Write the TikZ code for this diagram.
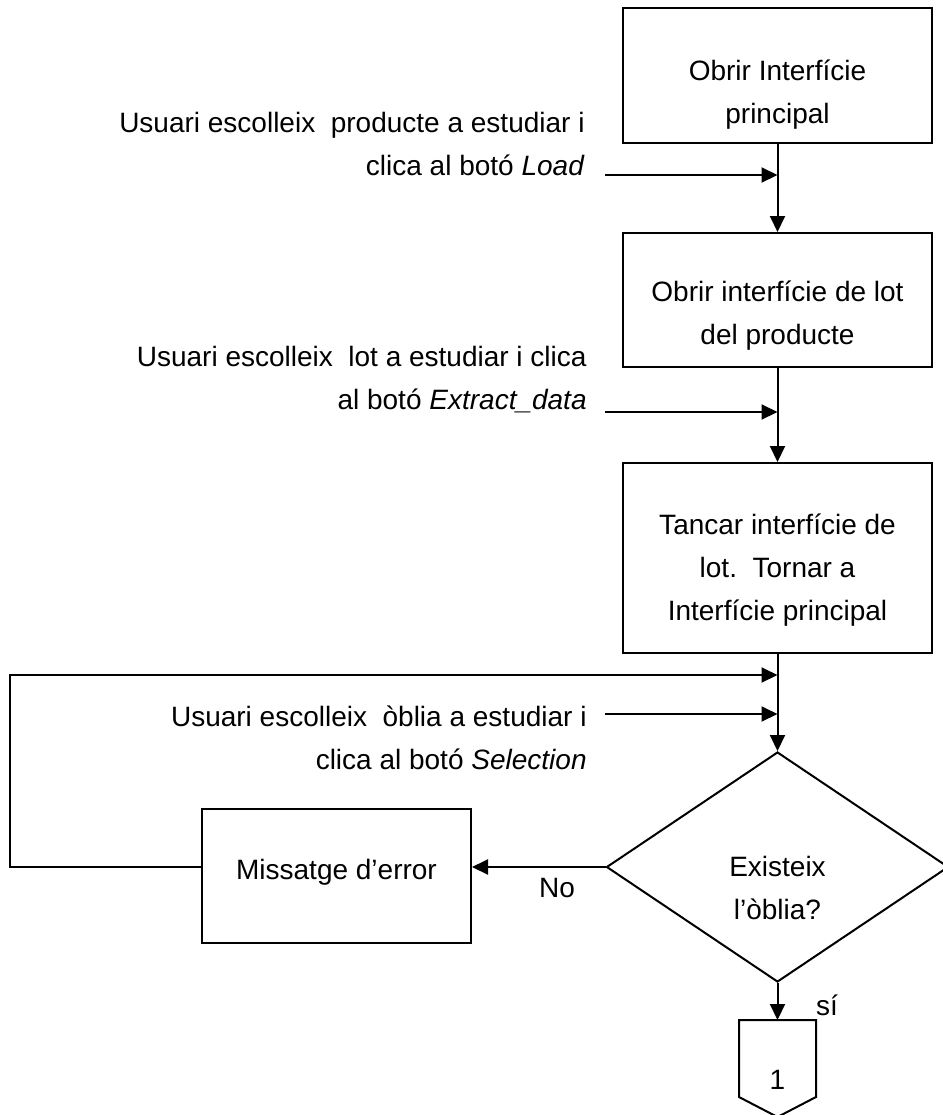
\documentclass[tikz,border=0pt]{standalone}
\usepackage{fontspec}
\setmainfont{Liberation Sans}
\usetikzlibrary{arrows.meta,shapes.geometric}
\tikzset{
  every node/.style={font=\fontsize{14pt}{21.5pt}\selectfont},
  box/.style={draw, line width=1pt, minimum width=154.5pt, inner sep=0pt},
  txt/.style={align=center, inner sep=0pt},
  ltxt/.style={align=right, anchor=east, inner sep=0pt},
  ln/.style={line width=1pt},
  arr/.style={line width=1pt, -{Triangle[length=8pt,width=7.5pt]}}
}
\begin{document}
\begin{tikzpicture}[x=0.5pt,y=-0.5pt]
\useasboundingbox (0,0) rectangle (943,1115);
\clip (0,0) rectangle (943,1115);
% boxes
\node[box, minimum height=67.5pt] (b1) at (777.5,75.5) {};
\node[txt] (t1) at (777.5,95) {Obrir Interfície\\principal};
\node[box, minimum height=67pt] (b2) at (777.5,300) {};
\node[txt] (t2) at (777.5,316) {Obrir interfície de lot\\del producte};
\node[box, minimum height=95pt] (b3) at (777.5,558) {};
\node[txt] (t3) at (777.5,570) {Tancar interfície de\\lot.\ \ Tornar a\\Interfície principal};
\node[draw, diamond, line width=1pt, minimum width=171pt, minimum height=115pt, inner sep=0pt] (d) at (777.5,867) {};
\node[txt] (td) at (777.5,888) {Existeix\\l’òblia?};
\node[box, minimum width=134.5pt, minimum height=67pt] (m) at (336.5,876) {};
\node[txt] (tm) at (336.5,872) {Missatge d’error};
% off-page connector
\coordinate (cT) at (777.5,1020);
\draw[ln] (739,1020) -- (816,1020) -- (816,1097) -- (777.5,1117) -- (739,1097) -- cycle;
\node[txt] (c1) at (777.5,1080) {1};
% left texts
\node[ltxt] (l1) at (585,143.5) {Usuari escolleix\ \ producte a estudiar i\\clica al botó \textit{Load}};
\node[ltxt] (l2) at (587,380) {Usuari escolleix\ \ lot a estudiar i clica\\al botó \textit{Extract\_data}};
\node[ltxt] (l3) at (587,738) {Usuari escolleix\ \ òblia a estudiar i\\clica al botó \textit{Selection}};
% junctions
\coordinate (s1) at (605,175);
\coordinate (j1) at (777.5,175);
\coordinate (s2) at (605,412);
\coordinate (j2) at (777.5,412);
\coordinate (s3) at (605,714);
\coordinate (j3) at (777.5,714);
\coordinate (j4) at (777.5,675);
\coordinate (lpA) at (10,867);
\coordinate (lpB) at (10,675);
% connectors
\draw[arr] (b1.south) -- (b2.north);
\draw[arr] (s1) -- (j1);
\draw[arr] (b2.south) -- (b3.north);
\draw[arr] (s2) -- (j2);
\draw[arr] (b3.south) -- (d.north);
\draw[arr] (s3) -- (j3);
\draw[arr] (m.west |- d.west) -- (lpA) -- (lpB) -- (j4);
\draw[arr] (d.west) -- (m.east |- d.west);
\draw[arr] (d.south) -- (cT);
% labels
\node[txt] (no) at (557,888) {No};
\node[txt] (si) at (827,1005) {sí};
\end{tikzpicture}
\end{document}
